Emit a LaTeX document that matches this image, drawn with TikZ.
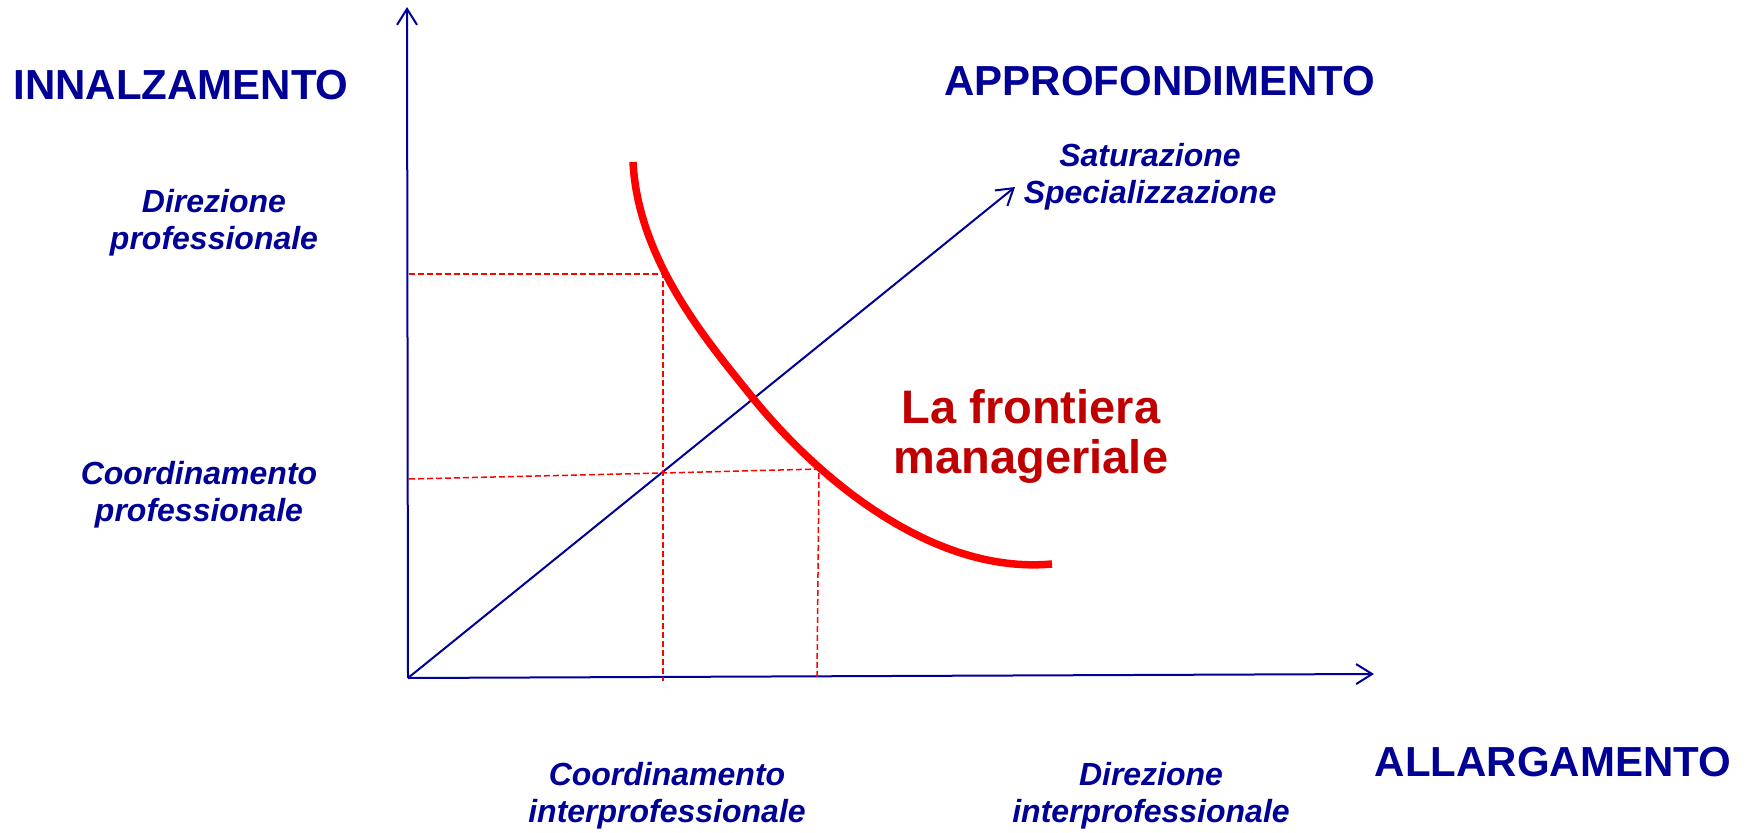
\documentclass[tikz,border=0pt]{standalone}
\usepackage{fontspec}
\setmainfont{Liberation Sans}
\usepackage{tikz}
\usetikzlibrary{arrows.meta}
\definecolor{navy}{RGB}{0,0,150}
\definecolor{darkred}{RGB}{192,0,0}

\begin{document}
\begin{tikzpicture}[x=0.5pt,y=-0.5pt,
    axis/.style={navy,line width=1pt,-{Straight Barb[length=8pt,width=10pt]}},
    guideline/.style={red,line width=0.75pt,dash pattern=on 3pt off 1.5pt},
    heading/.style={text=navy,font=\fontsize{21}{25}\selectfont\bfseries,inner sep=0pt},
    tag/.style={text=navy,font=\fontsize{16}{18.5}\selectfont\bfseries\itshape,align=center,inner sep=0pt}]

\useasboundingbox (0,0) rectangle (1748,833);

% Axes and diagonal
\coordinate (O) at (408,678);
\coordinate (ytop) at (407,7);
\coordinate (xend) at (1374,674);
\coordinate (dend) at (1015,187);
\draw[axis] (O) -- (ytop);
\draw[axis] (O) -- (xend);
\draw[axis] (O) -- (dend);

% Guide lines
\coordinate (P1) at (663,274);
\coordinate (P2) at (663,473);
\coordinate (P3) at (819,469);
\draw[guideline] (409,274) -- (P1) -- (663,681);
\draw[guideline] (409,479) -- (P2) -- (P3) -- (817,677);

% Managerial frontier
\coordinate (ftop) at (633,162);
\coordinate (fmid) at (752,397);
\coordinate (fend) at (1052,564);
\draw[red,line width=3.75pt] (ftop) .. controls (638,260) and (707,341) .. (fmid)
    .. controls (815,475) and (930,575) .. (fend);

% Axis headings
\node[heading] (up) at (181,85) {INNALZAMENTO};
\node[heading] (deep) at (1160,81) {APPROFONDIMENTO};
\node[heading] (wide) at (1553,762) {ALLARGAMENTO};

% Level labels
\node[tag] (dirprof) at (214,223) {Direzione\\professionale};
\node[tag] (coordprof) at (199,495) {Coordinamento\\professionale};
\node[tag] (coordinter) at (667,796) {Coordinamento\\interprofessionale};
\node[tag] (dirinter) at (1151,796) {Direzione\\interprofessionale};
\node[tag] (satur) at (1150,177) {Saturazione\\Specializzazione};

% Frontier label
\node[text=darkred,font=\fontsize{23.5}{25}\selectfont\bfseries,align=center,inner sep=0pt]
    (frontier) at (1031,436) {La frontiera\\manageriale};

\end{tikzpicture}
\end{document}
